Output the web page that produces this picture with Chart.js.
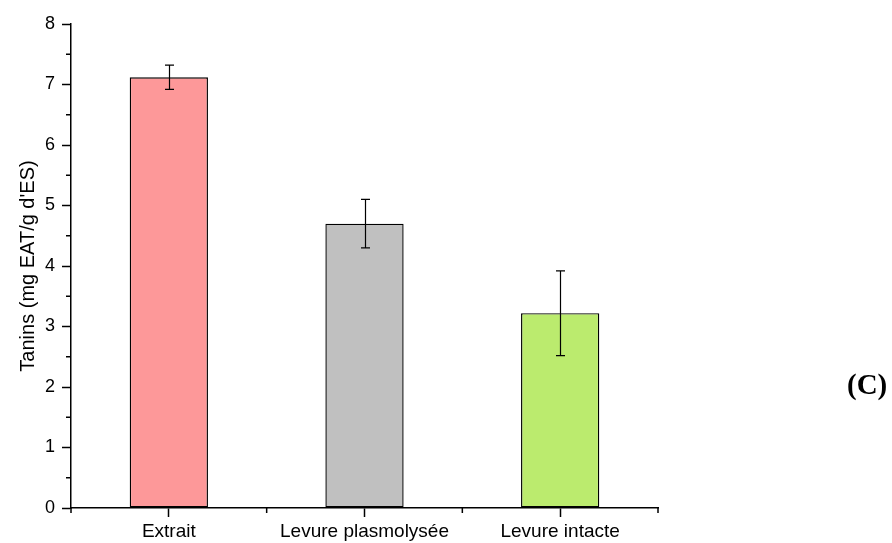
<!DOCTYPE html>
<html>
<head>
<meta charset="utf-8">
<script src="https://cdn.jsdelivr.net/npm/chart.js@4"></script>
<style>
    html, body { margin: 0; padding: 0; background: #fff; }
    #wrap { position: relative; width: 892px; height: 543px; }
    #panel_label {
        position: absolute; left: 847px; top: 368px;
        font: bold 29px "Liberation Serif", "Times New Roman", serif;
        color: #000;
    }
</style>
</head>
<body>
<div id="wrap">
    <canvas id="tanins_chart" width="892" height="543"></canvas>
    <div id="panel_label">(C)</div>
</div>
<script>
// Tanins par échantillon
const categories = ["Extrait", "Levure plasmolysée", "Levure intacte"];
const taninValues = [7.12, 4.70, 3.22];
const taninErrors = [0.20, 0.40, 0.70];
const barColors = ["#fd9899", "#c0c0c0", "#bbeb6e"];
const yTicks = [0, 1, 2, 3, 4, 5, 6, 7, 8];

const FONT = "'Liberation Sans', Arial, sans-serif";

// error bars drawn from the bar elements and the y scale
const errorBarsPlugin = {
    id: "errorBars",
    afterDatasetsDraw(chart) {
        const ctx = chart.ctx;
        const yScale = chart.scales.y;
        const meta = chart.getDatasetMeta(0);
        ctx.save();
        ctx.strokeStyle = "#000";
        ctx.lineWidth = 1.2;
        meta.data.forEach((bar, i) => {
            const top = yScale.getPixelForValue(taninValues[i] + taninErrors[i]);
            const bottom = yScale.getPixelForValue(taninValues[i] - taninErrors[i]);
            const x = Math.round(bar.x) + 0.5;
            ctx.beginPath();
            ctx.moveTo(x, top);
            ctx.lineTo(x, bottom);
            ctx.moveTo(x - 4.5, top);
            ctx.lineTo(x + 4.5, top);
            ctx.moveTo(x - 4.5, bottom);
            ctx.lineTo(x + 4.5, bottom);
            ctx.stroke();
        });
        ctx.restore();
    },
};

// minor ticks: half units on y, category boundaries on x
const minorTicksPlugin = {
    id: "minorTicks",
    afterDraw(chart) {
        const ctx = chart.ctx;
        const yScale = chart.scales.y;
        const xScale = chart.scales.x;
        ctx.save();
        ctx.strokeStyle = "#000";
        ctx.lineWidth = 1.5;
        ctx.beginPath();
        for (let v = 0.5; v < yTicks[yTicks.length - 1]; v += 1) {
            const y = yScale.getPixelForValue(v);
            ctx.moveTo(xScale.left - 5, y);
            ctx.lineTo(xScale.left, y);
        }
        const step = xScale.width / categories.length;
        for (let i = 0; i <= categories.length; i++) {
            const x = xScale.left + i * step;
            ctx.moveTo(x, yScale.bottom);
            ctx.lineTo(x, yScale.bottom + 5);
        }
        ctx.stroke();
        ctx.restore();
    },
};

new Chart(document.getElementById("tanins_chart"), {
    type: "bar",
    data: {
        labels: categories,
        datasets: [{
            data: taninValues,
            backgroundColor: barColors,
            borderColor: "#000",
            borderWidth: 1.4,
            borderSkipped: false,
            barPercentage: 0.4,
            categoryPercentage: 1.0,
        }],
    },
    options: {
        responsive: false,
        animation: false,
        layout: { padding: { top: 24, right: 234, left: 0, bottom: 0 } },
        plugins: {
            legend: { display: false },
            tooltip: { enabled: false },
        },
        scales: {
            x: {
                offset: true,
                grid: {
                    offset: false,
                    drawOnChartArea: false,
                    tickLength: 9,
                    tickWidth: 1.5,
                    tickColor: "#000",
                },
                border: { color: "#000", width: 1.5 },
                ticks: {
                    color: "#000",
                    padding: 3,
                    maxRotation: 0,
                    autoSkip: false,
                    font: { family: FONT, size: 19 },
                },
                afterFit(scale) { scale.height = 35; },
            },
            y: {
                min: yTicks[0],
                max: yTicks[yTicks.length - 1],
                afterBuildTicks(scale) { scale.ticks = yTicks.map((v) => ({ value: v })); },
                grid: {
                    drawOnChartArea: false,
                    tickLength: 9,
                    tickWidth: 1.5,
                    tickColor: "#000",
                },
                border: { color: "#000", width: 1.5 },
                ticks: {
                    color: "#000",
                    padding: 7,
                    font: { family: FONT, size: 18 },
                },
                title: {
                    display: true,
                    text: "Tanins (mg EAT/g d'ES)",
                    color: "#000",
                    font: { family: FONT, size: 20 },
                    padding: { top: 16, bottom: 0 },
                },
                afterFit(scale) { scale.width = 71; },
            },
        },
    },
    plugins: [errorBarsPlugin, minorTicksPlugin],
});
</script>
</body>
</html>
